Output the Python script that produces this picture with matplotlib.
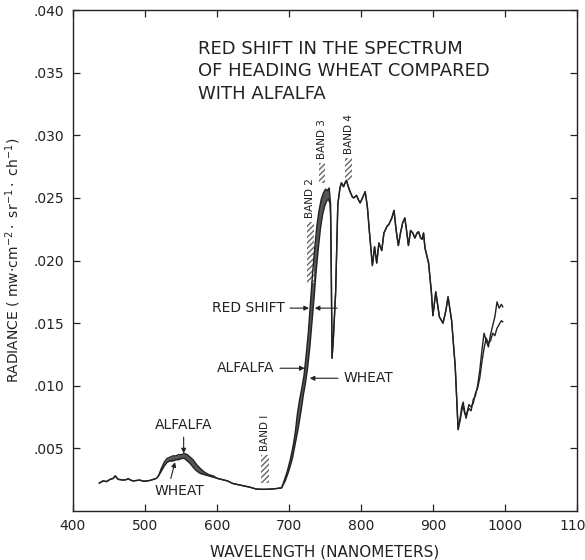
import numpy as np
import matplotlib
matplotlib.use('Agg')
import matplotlib.pyplot as plt

plt.rcParams['font.family'] = ['DejaVu Sans']

# visible part, same wavelengths for both crops
wl_vis = [437, 442, 447, 452, 456, 459, 463, 467, 470, 474,
          477, 481, 484, 488, 493, 498, 503, 508, 512, 516,
          519, 523, 527, 531, 535, 539, 543, 547, 551, 555,
          559, 563, 567, 572, 577, 583, 589, 595, 601, 608,
          615, 622, 630, 638, 646, 655, 663, 672, 681, 690]
alfalfa_vis = [0.00223, 0.0024, 0.00235, 0.00253, 0.0026, 0.0028, 0.00253, 0.0025, 0.00247, 0.0025,
               0.00258, 0.00245, 0.0024, 0.00243, 0.00247, 0.00238, 0.0024, 0.00245, 0.00253, 0.0026,
               0.0028, 0.0034, 0.0039, 0.0042, 0.0043, 0.0044, 0.0044, 0.0045, 0.0045, 0.0046,
               0.0045, 0.0043, 0.0041, 0.0037, 0.0034, 0.0031, 0.0029, 0.0028, 0.0026, 0.0025,
               0.0024, 0.0022, 0.0021, 0.0020, 0.0019, 0.00175, 0.00173, 0.00174, 0.00178, 0.00185]
wheat_vis = [0.00223, 0.0024, 0.00235, 0.00253, 0.0026, 0.0028, 0.00253, 0.0025, 0.00247, 0.0025,
             0.00258, 0.00245, 0.0024, 0.00243, 0.00247, 0.00238, 0.0024, 0.00245, 0.00253, 0.0026,
             0.0028, 0.0032, 0.0036, 0.0039, 0.0040, 0.0040, 0.0041, 0.0041, 0.0042, 0.0042,
             0.0040, 0.0038, 0.0035, 0.0032, 0.0030, 0.0029, 0.0028, 0.0027, 0.0026, 0.0025,
             0.0024, 0.0022, 0.0021, 0.0020, 0.0019, 0.00175, 0.00173, 0.00174, 0.00178, 0.00185]

# red edge
wl_edge_alfalfa = [690, 694, 698, 702, 706, 709, 712, 715, 718, 721, 724, 727, 730,
                   733, 736, 739, 742, 745, 748, 751, 754, 756, 758, 759, 760]
alfalfa_edge = [0.00185, 0.0025, 0.0032, 0.0041, 0.0052, 0.0063, 0.0078, 0.0089, 0.0098, 0.0108,
                0.0124, 0.0142, 0.0166, 0.0190, 0.0210, 0.0228, 0.0240, 0.0249, 0.0254, 0.0257,
                0.0256, 0.0258, 0.0245, 0.0190, 0.0122]
wl_edge_wheat = [690, 695, 700, 705, 709, 713, 717, 720, 723, 726, 729, 732,
                 735, 738, 741, 744, 747, 750, 753, 755, 757, 758, 759, 760]
wheat_edge = [0.00185, 0.0024, 0.0032, 0.0042, 0.0054, 0.0066, 0.0080, 0.0092, 0.0102, 0.0114,
              0.0130, 0.0150, 0.0170, 0.0192, 0.0210, 0.0226, 0.0237, 0.0244, 0.0248, 0.0249,
              0.0246, 0.0235, 0.0185, 0.0122]

# near infrared, curves overlap
wl_nir = [760, 762, 765, 768, 771, 773, 776, 778, 780, 782,
          785, 788, 790, 794, 797, 799, 803, 806, 809, 812,
          816, 819, 822, 825, 829, 832, 836, 839, 843, 846,
          849, 852, 855, 858, 861, 863, 866, 869, 872, 875,
          878, 880, 883, 885, 887, 889, 894, 898, 900, 904,
          909, 914, 918, 921, 926, 931]
rad_nir = [0.0122, 0.0140, 0.0175, 0.0245, 0.0258, 0.0262, 0.0259, 0.0262, 0.0264, 0.0260,
           0.0255, 0.0251, 0.0250, 0.0252, 0.0248, 0.0246, 0.0251, 0.0255, 0.0243, 0.0222,
           0.0196, 0.0211, 0.0198, 0.0214, 0.0208, 0.0222, 0.0227, 0.0229, 0.0234, 0.0240,
           0.0224, 0.0212, 0.0222, 0.0230, 0.0234, 0.0226, 0.0212, 0.0224, 0.0222, 0.0218,
           0.0222, 0.0223, 0.0218, 0.0217, 0.0222, 0.0210, 0.0198, 0.0174, 0.0156, 0.0175,
           0.0155, 0.0150, 0.0160, 0.0171, 0.0152, 0.0115]

# water band tail
wl_tail = [935, 938, 940, 942, 944, 946, 948, 950, 953, 956, 959, 962,
           965, 968, 971, 974, 977, 980, 983, 986, 989, 992, 995, 997]
alfalfa_tail = [0.0065, 0.0075, 0.0083, 0.0087, 0.0080, 0.0074, 0.0079, 0.0082, 0.0080, 0.0089,
                0.0092, 0.0100, 0.0112, 0.0128, 0.0142, 0.0136, 0.0131, 0.0141, 0.0148, 0.0155,
                0.0167, 0.0162, 0.0165, 0.0163]
wheat_tail = [0.0065, 0.0073, 0.0080, 0.0084, 0.0078, 0.0076, 0.0080, 0.0085, 0.0083, 0.0086,
              0.0094, 0.0098, 0.0106, 0.0119, 0.0130, 0.0138, 0.0134, 0.0136, 0.0142, 0.0140,
              0.0146, 0.0149, 0.0152, 0.0151]

# landsat bands
band_names = ['BAND I', 'BAND 2', 'BAND 3', 'BAND 4']
band_lo = [661, 725, 742, 778]
band_hi = [673, 735, 750, 788]
band_bottom = [0.00224, 0.0182, 0.0262, 0.0264]
band_top = [0.00447, 0.0231, 0.0278, 0.0282]

xticks = [400, 500, 600, 700, 800, 900, 1000, 1100]
yticks = [0.005, 0.010, 0.015, 0.020, 0.025, 0.030, 0.035, 0.040]
ytick_labels = ['.005', '.010', '.015', '.020', '.025', '.030', '.035', '.040']

ink = '#222222'

alf_x = np.concatenate([wl_vis, wl_edge_alfalfa[1:], wl_nir[1:], wl_tail])
alf_y = np.concatenate([alfalfa_vis, alfalfa_edge[1:], rad_nir[1:], alfalfa_tail])
wht_x = np.concatenate([wl_vis, wl_edge_wheat[1:], wl_nir[1:], wl_tail])
wht_y = np.concatenate([wheat_vis, wheat_edge[1:], rad_nir[1:], wheat_tail])

fig = plt.figure(figsize=(5.85, 5.6), dpi=100)
ax = fig.add_axes([0.1243, 0.0875, 0.862, 0.8945])

# shaded gap between the two spectra
ax.fill_between(wl_vis, wheat_vis, alfalfa_vis, color='#555555', lw=0)
ax.fill(np.concatenate([wl_edge_alfalfa, wl_edge_wheat[::-1]]),
        np.concatenate([alfalfa_edge, wheat_edge[::-1]]), color='#555555', lw=0)

ax.plot(alf_x, alf_y, color=ink, lw=1.0)
ax.plot(wht_x, wht_y, color=ink, lw=1.0)

for name, lo, hi, b, t in zip(band_names, band_lo, band_hi, band_bottom, band_top):
    ax.bar(lo, t - b, width=hi - lo, bottom=b, align='edge', facecolor='white',
           edgecolor='#666666', hatch='//////', lw=0)
    ax.text((lo + hi) / 2, t + 0.0003, name, rotation=90, ha='center', va='bottom',
            fontsize=7.5, color=ink)

ax.text(574, 0.0351, 'RED SHIFT IN THE SPECTRUM\nOF HEADING WHEAT COMPARED\nWITH ALFALFA',
        ha='left', va='center', fontsize=13, linespacing=1.35, color=ink)

arr = dict(arrowstyle='-|>', color=ink, lw=0.8, mutation_scale=7, shrinkA=2, shrinkB=0)
ax.annotate('RED SHIFT', xy=(728, 0.0162), xytext=(694, 0.0162), ha='right', va='center',
            fontsize=10, color=ink, arrowprops=arr)
ax.annotate('', xy=(736, 0.0162), xytext=(771, 0.0162), arrowprops=arr)
ax.annotate('ALFALFA', xy=(722, 0.0114), xytext=(680, 0.0114), ha='right', va='center',
            fontsize=10, color=ink, arrowprops=arr)
ax.annotate('WHEAT', xy=(729, 0.0106), xytext=(776, 0.0106), ha='left', va='center',
            fontsize=10, color=ink, arrowprops=arr)
ax.annotate('ALFALFA', xy=(554, 0.0046), xytext=(554, 0.0069), ha='center', va='center',
            fontsize=10, color=ink, arrowprops=arr)
ax.annotate('WHEAT', xy=(542, 0.0039), xytext=(548, 0.0016), ha='center', va='center',
            fontsize=10, color=ink,
            arrowprops=dict(arrowstyle='-|>', color=ink, lw=0.8, mutation_scale=7,
                            shrinkA=2, shrinkB=0, relpos=(0.3, 1.0)))

ax.set_xlim(400, 1100)
ax.set_ylim(0, 0.040)
ax.set_xticks(xticks)
ax.set_xticklabels([str(v) for v in xticks])
ax.set_yticks(yticks)
ax.set_yticklabels(ytick_labels)
ax.tick_params(direction='in', top=True, right=True, length=5, width=0.9,
               labelsize=10, colors=ink, pad=6)
for s in ax.spines.values():
    s.set_linewidth(1.0)
    s.set_color(ink)

ax.set_xlabel('WAVELENGTH (NANOMETERS)', fontsize=11, color=ink, labelpad=8)
ax.set_ylabel(r'RADIANCE ( mw$\cdot$cm$^{-2}\cdot$ sr$^{-1}\cdot$ ch$^{-1}$)',
              fontsize=10, color=ink, labelpad=8)

fig.savefig('out.png', dpi=100)
